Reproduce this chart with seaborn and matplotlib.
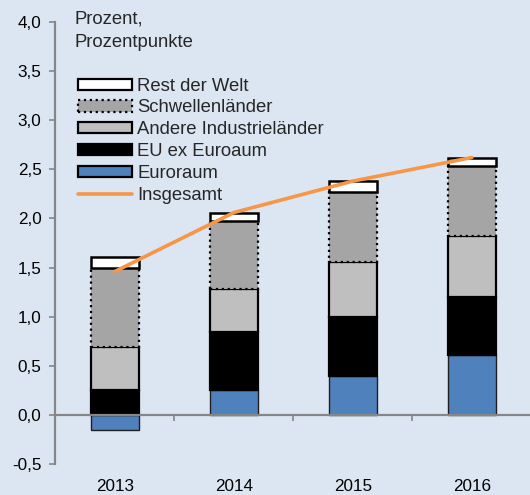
import numpy as np
import pandas as pd
import seaborn as sns
import matplotlib
matplotlib.use("Agg")
import matplotlib.pyplot as plt
from matplotlib.patches import Patch
from matplotlib.lines import Line2D
from matplotlib.ticker import FuncFormatter, FixedLocator

# Data
years = ["2013", "2014", "2015", "2016"]
euroraum = [-0.15, 0.25, 0.40, 0.61]
eu_ex_euroraum = [0.25, 0.59, 0.60, 0.59]
andere_industrie = [0.44, 0.44, 0.56, 0.62]
schwellenlaender = [0.81, 0.69, 0.71, 0.71]
rest_der_welt = [0.11, 0.09, 0.11, 0.09]
insgesamt = [1.46, 2.06, 2.38, 2.62]

BG = "#dce6f2"
GRID = "#868686"

sns.set_theme(style="white", rc={
    "axes.facecolor": BG,
    "figure.facecolor": BG,
})
plt.rcParams["font.family"] = ["Liberation Sans", "DejaVu Sans"]
plt.rcParams["font.size"] = 12

fig = plt.figure(figsize=(5.3, 4.95), dpi=100)
ax = fig.add_axes([0.1045, 0.0626, 0.898, 0.893])

series = [
    ("Euroraum", euroraum, dict(color="#4f81bd", edgecolor="#1f1f1f", linewidth=1.0, linestyle="-")),
    ("EU ex Euroaum", eu_ex_euroraum, dict(color="#000000", edgecolor="#000000", linewidth=1.6, linestyle="-")),
    ("Andere Industrieländer", andere_industrie, dict(color="#bfbfbf", edgecolor="#000000", linewidth=1.6, linestyle="-")),
    ("Schwellenländer", schwellenlaender, dict(color="#a5a5a5", edgecolor="#000000", linewidth=1.6, linestyle=":")),
    ("Rest der Welt", rest_der_welt, dict(color="#ffffff", edgecolor="#000000", linewidth=1.8, linestyle="-")),
]

# stack positive parts upwards, negative parts downwards
pos_base = np.zeros(len(years))
neg_base = np.zeros(len(years))
handles = {}
for name, vals, style in series:
    vals = np.asarray(vals)
    bottom = np.where(vals >= 0, pos_base, neg_base)
    sns.barplot(x=years, y=vals, bottom=bottom, width=0.4, ax=ax,
                errorbar=None, saturation=1, **style)
    pos_base = pos_base + np.clip(vals, 0, None)
    neg_base = neg_base + np.clip(vals, None, 0)
    handles[name] = Patch(facecolor=style["color"], edgecolor="#000000",
                          linewidth=1.6, linestyle=style["linestyle"])

# Insgesamt line
sns.pointplot(x=years, y=insgesamt, ax=ax, color="#f79646", marker="",
              linewidth=2.6, errorbar=None)
for ln in ax.lines:
    ln.set_zorder(5)

ax.set_xlim(-0.5, 3.5)
ax.set_ylim(-0.5, 4.0)
ax.set_xlabel("")
ax.set_ylabel("")

# axes styling
for s in ["top", "right"]:
    ax.spines[s].set_visible(False)
ax.spines["left"].set_color(GRID)
ax.spines["left"].set_linewidth(1.6)
ax.spines["bottom"].set_position(("data", 0))
ax.spines["bottom"].set_color(GRID)
ax.spines["bottom"].set_linewidth(1.6)

ax.set_yticks(np.arange(-0.5, 4.01, 0.5))
ax.yaxis.set_major_formatter(FuncFormatter(lambda v, p: f"{v:.1f}".replace(".", ",")))
ax.tick_params(axis="y", direction="out", length=4, width=1.2, color=GRID,
               pad=6, labelsize=12.3, left=True, labelcolor="#000000")
ax.set_xticks(range(len(years)))
ax.set_xticklabels(years)
ax.xaxis.set_minor_locator(FixedLocator([0.5, 1.5, 2.5]))
ax.tick_params(axis="x", which="major", length=0, pad=46, labelsize=12.3, labelcolor="#000000")
ax.tick_params(axis="x", which="minor", direction="out", length=4, width=1.2,
               color=GRID, bottom=True)

# legend
order = ["Rest der Welt", "Schwellenländer", "Andere Industrieländer",
         "EU ex Euroaum", "Euroraum"]
leg_handles = [handles[n] for n in order]
leg_handles.append(Line2D([0], [0], color="#f79646", linewidth=2.6))
leg_labels = order + ["Insgesamt"]
ax.legend(leg_handles, leg_labels, loc="upper left",
          bbox_to_anchor=(0.048, 0.874), frameon=False, fontsize=13.3,
          handlelength=2.9, handleheight=0.55, handletextpad=0.3,
          labelspacing=0.26, borderpad=0, borderaxespad=0)

fig.text(75 / 530, 1 - 11 / 495, "Prozent,\nProzentpunkte", ha="left", va="top",
         fontsize=13.3, linespacing=1.45)

fig.savefig("out.png", dpi=100, facecolor=BG)
